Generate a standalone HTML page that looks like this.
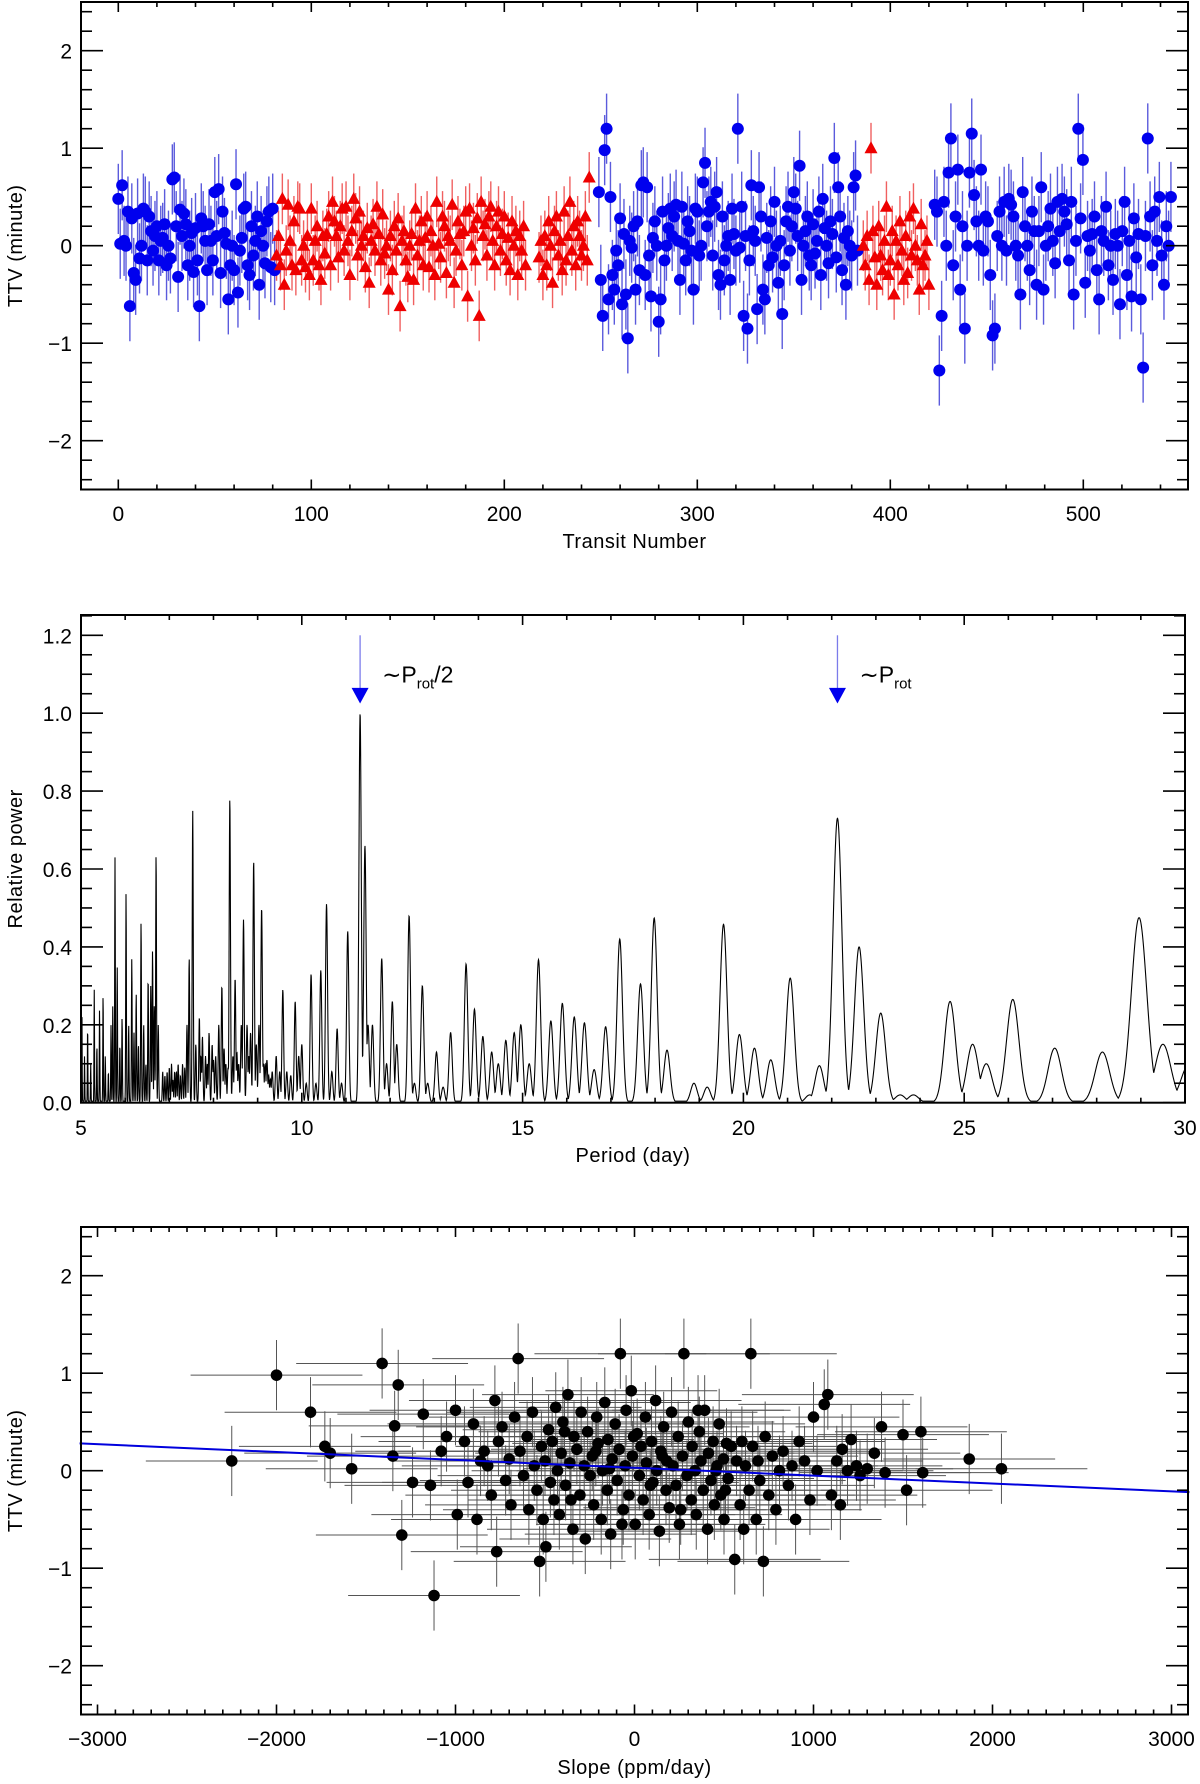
<!DOCTYPE html>
<html><head><meta charset="utf-8"><style>
html,body{margin:0;padding:0;background:#fff}
svg{display:block}
text{font-family:"Liberation Sans",sans-serif;fill:#000}
</style></head><body>
<svg id="fig" width="1200" height="1784" viewBox="0 0 1200 1784" xmlns="http://www.w3.org/2000/svg">
<defs>
<clipPath id="clip2"><rect x="81" y="615" width="1104" height="488"/></clipPath>
</defs>
<g id="p1"></g>
<g id="p2"></g>
<g id="p3"></g>
</svg>
<script>
// ---------- Panel 1 data ----------
const blue1Start = 0, blue1Step = 1;
const blue1 = [0.48,0.02,0.62,0.05,0.0,0.35,-0.62,0.28,-0.28,-0.35,0.33,-0.13,0.0,0.38,0.35,-0.15,0.3,0.15,-0.05,0.1,0.2,-0.15,0.05,0.08,0.22,-0.2,0.0,-0.13,0.68,0.7,0.2,-0.32,0.37,0.1,0.33,0.22,-0.2,0.0,0.13,-0.27,0.18,-0.15,-0.62,0.28,0.2,0.05,-0.25,0.22,0.05,-0.15,0.55,0.1,0.58,-0.28,0.35,0.13,0.02,-0.55,-0.2,0.0,-0.25,0.63,-0.48,-0.05,0.08,0.38,0.4,-0.2,-0.3,0.2,-0.1,0.05,0.3,-0.4,0.15,0.0,-0.18,0.25,0.35,-0.22,0.38,-0.25];
const red1Start = 82, red1Step = 1;
const red1 = [-0.1,0.1,-0.2,0.48,-0.4,-0.05,0.42,0.05,-0.2,0.25,-0.25,0.4,0.38,-0.15,0.0,-0.22,0.1,-0.3,0.38,-0.15,0.05,0.2,-0.2,-0.35,0.1,-0.08,0.12,0.3,-0.2,0.45,0.25,0.1,-0.12,0.2,0.38,-0.05,0.4,0.05,-0.3,0.15,0.48,0.28,-0.1,0.35,0.0,0.1,-0.22,0.18,-0.38,0.05,0.22,-0.05,0.4,0.12,-0.15,0.32,-0.08,0.0,-0.45,0.1,-0.25,0.2,-0.05,0.28,-0.62,0.05,0.15,-0.15,-0.32,0.0,0.12,-0.35,0.38,-0.1,0.05,0.25,-0.2,0.08,0.3,-0.22,0.15,0.0,-0.3,0.45,0.02,-0.12,0.3,0.2,-0.28,0.1,0.05,0.42,-0.38,-0.05,0.25,0.12,-0.2,0.15,0.35,-0.52,0.38,0.0,0.18,-0.15,0.28,-0.72,0.45,0.1,0.22,-0.1,0.3,0.4,0.05,-0.2,0.2,0.35,-0.05,0.12,0.3,-0.15,0.08,-0.25,0.25,0.0,0.15,-0.3,0.1,-0.05,0.2,-0.2,null,null,null,null,null,null,-0.12,0.05,-0.3,0.1,-0.2,0.25,0.0,-0.38,0.15,0.3,-0.1,0.05,-0.25,0.35,-0.15,0.1,0.45,-0.05,0.2,-0.2,0.25,0.1,-0.1,0.0,0.3,-0.15,0.7];
const blue2Start = 249, blue2Step = 1;
const blue2 = [0.55,-0.35,-0.72,0.98,1.2,-0.55,0.5,-0.3,-0.45,-0.05,-0.2,0.28,-0.6,0.12,-0.5,-0.95,0.05,-0.02,0.2,-0.45,0.25,-0.25,0.62,0.65,-0.3,0.6,-0.1,-0.52,0.08,0.25,0.0,-0.78,-0.55,0.35,-0.15,0.0,0.18,0.38,0.1,0.3,0.42,0.05,-0.35,0.4,0.02,-0.15,0.25,0.15,-0.05,-0.45,0.38,0.35,-0.1,0.0,0.65,0.85,0.2,0.35,0.45,-0.1,0.4,0.55,-0.3,-0.4,0.3,-0.15,0.0,0.1,-0.35,0.38,0.12,-0.05,1.2,-0.02,0.4,-0.72,0.1,-0.85,-0.15,0.62,0.15,0.05,-0.65,0.6,0.3,-0.45,-0.55,0.08,-0.2,0.25,-0.12,0.45,0.0,-0.38,0.05,-0.7,-0.2,0.25,0.4,-0.05,0.2,0.55,0.38,0.1,0.82,-0.35,0.0,0.15,0.3,-0.1,-0.2,0.22,-0.08,0.05,0.35,-0.3,0.48,0.18,0.0,-0.18,0.25,0.12,0.9,-0.12,0.6,0.3,-0.25,0.08,-0.4,0.15,0.0,-0.1,0.6,0.72,-0.05];
const red2Start = 386, red2Step = 1;
const red2 = [0.0,-0.2,0.1,-0.35,1.0,0.15,-0.12,-0.4,0.2,-0.1,-0.25,0.05,0.4,-0.3,-0.15,0.15,-0.5,0.05,-0.2,0.25,-0.05,-0.35,0.1,-0.28,0.3,-0.1,0.38,0.0,-0.15,-0.45,0.22,-0.2,-0.1,0.05,-0.4];
const blue3Start = 423, blue3Step = 1.2;
const blue3 = [0.42,0.35,-1.28,-0.72,0.45,0.0,0.75,1.1,-0.2,0.3,0.78,-0.45,0.2,-0.85,0.0,0.75,1.15,0.52,0.25,0.0,0.78,-0.05,0.3,0.25,-0.3,-0.92,-0.85,0.1,0.35,0.0,0.45,-0.05,0.48,0.42,0.3,0.0,-0.1,-0.5,0.55,0.2,0.0,-0.25,0.35,0.15,-0.4,0.15,0.6,-0.45,0.0,0.2,0.38,0.05,-0.18,0.45,0.15,0.48,0.35,0.22,-0.15,0.45,-0.5,0.05,1.2,0.28,0.88,-0.38,0.1,-0.05,0.12,0.3,-0.25,-0.55,0.15,0.05,0.4,-0.2,0.0,-0.35,0.12,0.0,-0.6,0.15,0.45,-0.3,0.05,-0.52,0.28,-0.12,0.12,-0.55,-1.25,0.1,1.1,0.3,-0.2,0.35,0.05,0.5,-0.1,-0.4,0.2,0.0,0.5];
const blueErr = 0.36, redErr = 0.26;
const p1XTicks = [0,100,200,300,400,500];
const p1YTicks = [-2,-1,0,1,2];

// ---------- Panel 2 data ----------
const peakPeriods = [5.02,5.08,5.15,5.22,5.3,5.36,5.42,5.5,5.55,5.62,5.68,5.72,5.77,5.82,5.88,5.93,6.02,6.08,6.15,6.2,6.25,6.3,6.36,6.42,6.47,6.52,6.58,6.62,6.66,6.7,6.75,6.85,6.95,7.05,7.12,7.2,7.3,7.4,7.45,7.53,7.6,7.68,7.75,7.82,7.9,7.97,8.05,8.12,8.19,8.28,8.37,8.44,8.49,8.57,8.63,8.68,8.76,8.84,8.91,8.97,9.03,9.09,9.17,9.25,9.33,9.42,9.5,9.57,9.66,9.75,9.85,9.93,10.0,10.1,10.21,10.32,10.43,10.56,10.68,10.8,10.9,11.04,11.32,11.43,11.5,11.6,11.81,11.92,12.05,12.15,12.43,12.55,12.73,12.85,13.05,13.2,13.37,13.72,13.91,14.1,14.3,14.45,14.62,14.81,14.96,15.15,15.36,15.64,15.9,16.17,16.4,16.62,16.88,17.2,17.67,17.98,18.27,18.88,19.18,19.55,19.91,20.25,20.62,21.06,21.5,21.72,22.13,22.62,23.11,23.55,23.85,24.68,25.19,25.5,26.1,27.05,28.13,28.96,29.5,30.1,6.9,7.0,7.08,7.16,7.25,7.35,7.72,7.86,8.0,8.24,8.33,8.53,8.8,9.13,9.21,9.29];
const peakPowers = [0.25,0.12,0.2,0.1,0.29,0.15,0.24,0.28,0.12,0.08,0.2,0.25,0.63,0.35,0.15,0.22,0.54,0.2,0.37,0.18,0.28,0.15,0.465,0.2,0.1,0.32,0.3,0.39,0.25,0.64,0.2,0.08,0.08,0.1,0.08,0.1,0.1,0.2,0.37,0.75,0.15,0.22,0.17,0.12,0.18,0.15,0.12,0.2,0.3,0.1,0.78,0.12,0.32,0.1,0.2,0.47,0.2,0.18,0.62,0.15,0.2,0.5,0.1,0.07,0.08,0.12,0.08,0.29,0.08,0.07,0.26,0.12,0.15,0.05,0.33,0.05,0.34,0.51,0.08,0.19,0.05,0.44,1.0,0.66,0.2,0.2,0.37,0.1,0.26,0.15,0.48,0.05,0.3,0.05,0.13,0.04,0.18,0.356,0.24,0.17,0.13,0.1,0.16,0.18,0.2,0.1,0.367,0.21,0.255,0.22,0.205,0.085,0.195,0.42,0.305,0.474,0.135,0.05,0.04,0.458,0.175,0.14,0.11,0.32,0.02,0.095,0.73,0.40,0.23,0.02,0.02,0.26,0.15,0.1,0.265,0.14,0.13,0.475,0.15,0.1,0.07,0.09,0.06,0.08,0.07,0.09,0.12,0.1,0.11,0.14,0.09,0.13,0.12,0.1,0.11,0.06];
const p2XTicks = [5,10,15,20,25,30];
const p2YTicks = [0.0,0.2,0.4,0.6,0.8,1.0,1.2];
const arrowPeriods = [11.32, 22.13];

// ---------- Panel 3 data ----------
const slopeVals = [-2250,-2000,-1810,-1730,-1700,-1580,-1410,-1340,-1350,-1320,-1300,-1240,-1180,-1140,-1120,-1080,-1050,-1000,-990,-950,-930,-900,-880,-860,-840,-820,-800,-780,-770,-760,-740,-720,-700,-690,-670,-650,-640,-620,-600,-590,-570,-560,-545,-530,-520,-510,-500,-495,-480,-470,-460,-450,-440,-430,-420,-410,-400,-385,-372,-361,-344,-338,-322,-305,-298,-281,-275,-262,-248,-236,-228,-211,-203,-186,-179,-166,-152,-148,-133,-125,-108,-97,-86,-79,-63,-52,-47,-31,-18,-12,4,15,27,36,48,61,66,82,95,103,118,124,139,147,163,176,180,194,207,215,232,244,251,268,276,293,301,317,322,338,345,362,371,384,392,408,413,427,439,446,461,473,482,497,500,514,523,-391,-355,-216,-140,-70,-5,88,155,258,355,455,508,540,560,570,590,600,610,620,640,650,660,680,690,700,720,730,750,770,790,810,830,860,880,900,920,950,980,1000,1020,1060,1080,1100,1130,1150,1160,1190,1210,1240,1260,1300,1340,1380,1400,1500,1520,1600,1610,1870,2050];
const ttvVals = [0.1,0.98,0.6,0.25,0.18,0.02,1.1,0.46,0.15,0.88,-0.66,-0.12,0.58,-0.15,-1.28,0.2,0.35,0.62,-0.45,0.3,-0.12,0.48,-0.5,0.1,0.2,0.05,-0.25,0.72,-0.83,0.3,0.45,-0.1,0.12,-0.35,0.55,1.15,0.2,-0.05,0.35,-0.4,0.6,0.05,-0.2,-0.93,0.25,-0.5,0.1,-0.78,0.42,-0.12,0.3,-0.3,0.65,0.0,-0.45,0.18,0.5,-0.15,0.78,0.08,-0.6,0.35,0.22,-0.25,0.6,0.05,-0.7,0.4,-0.05,0.15,-0.35,0.55,0.28,-0.5,0.0,0.7,-0.2,0.32,-0.65,0.12,0.48,-0.1,0.22,1.2,-0.4,0.05,0.62,-0.25,0.82,0.15,-0.55,0.38,-0.05,0.25,-0.3,0.55,0.08,-0.45,0.3,-0.12,0.72,0.0,-0.62,0.2,0.45,-0.2,0.1,-0.38,0.6,0.05,-0.15,0.35,-0.55,0.15,1.2,-0.05,0.5,-0.3,0.25,0.0,-0.45,0.4,0.1,-0.2,0.62,-0.6,0.18,-0.1,0.3,-0.35,0.05,0.48,-0.25,0.12,-0.5,0.28,-0.08,0.4,-0.3,0.2,0.02,-0.55,0.35,-0.15,0.15,-0.4,0.62,0.0,-0.2,0.25,-0.91,0.1,-0.35,0.3,-0.6,0.05,-0.2,1.2,0.25,-0.5,0.1,-0.1,-0.93,0.35,-0.25,0.15,-0.4,0.0,0.2,-0.15,0.05,-0.5,0.3,0.1,-0.3,0.55,0.0,0.68,0.78,-0.25,0.1,-0.35,0.22,0.0,0.32,0.05,-0.05,0.02,0.18,0.45,-0.02,0.37,-0.2,0.4,-0.02,0.12,0.02];
const slopeErr = 480, ttvErr3 = 0.36;
const fitSlope = [-3100, 3100];
const fitTtv = [0.28, -0.22];
const p3XTicks = [-3000,-2000,-1000,0,1000,2000,3000];
const p3YTicks = [-2,-1,0,1,2];

// ---------- helpers ----------
const NS = 'http://www.w3.org/2000/svg';
function mk(tag, attrs, parent){
  const e = document.createElementNS(NS, tag);
  for (const k in attrs) e.setAttribute(k, attrs[k]);
  parent.appendChild(e);
  return e;
}
function lin(d0,d1,r0,r1){ return v => r0 + (v-d0)*(r1-r0)/(d1-d0); }

function drawFrame(g, L, T, R, B, xs, ys, xMajor, xMinorStep, yMajor, yMinorStep, xDom, yDom, xFmt, yFmt, xTitle, yTitle, xLabelY, xTitleY, yTitleX){
  const box = mk('rect', {x:L, y:T, width:R-L, height:B-T, fill:'none', stroke:'#000', 'stroke-width':2}, g);
  
  
  const tk = mk('g', {stroke:'#000', 'stroke-width':1.6}, g);
  
  
  const nMinX = Math.round((xDom[1]-xDom[0])/xMinorStep);
  for (let i=-2;i<=nMinX+2;i++){
    const v = Math.ceil(xDom[0]/xMinorStep)*xMinorStep + i*xMinorStep;
    if (v < xDom[0] || v > xDom[1]) continue;
    const px = xs(v);
    const major = xMajor.some(m => Math.abs(m-v) < 1e-6);
    const len = major ? 10 : 5;
    mk('line', {x1:px, y1:B, x2:px, y2:B-len}, tk);
    mk('line', {x1:px, y1:T, x2:px, y2:T+len}, tk);
  }
  const nMinY = Math.round((yDom[1]-yDom[0])/yMinorStep);
  for (let i=-2;i<=nMinY+2;i++){
    const v = Math.ceil(yDom[0]/yMinorStep-1e-9)*yMinorStep + i*yMinorStep;
    if (v < yDom[0]-1e-9 || v > yDom[1]+1e-9) continue;
    const py = ys(v);
    const major = yMajor.some(m => Math.abs(m-v) < 1e-6);
    const len = major ? 22 : 11;
    mk('line', {x1:L, y1:py, x2:L+len, y2:py}, tk);
    mk('line', {x1:R, y1:py, x2:R-len, y2:py}, tk);
  }
  xMajor.forEach(v => {
    const t = mk('text', {x:xs(v), y:xLabelY, 'font-size':21, 'text-anchor':'middle'}, g);
    t.textContent = xFmt(v);
    
    
  });
  yMajor.forEach(v => {
    const t = mk('text', {x:L-9, y:ys(v)+8, 'font-size':21, 'text-anchor':'end'}, g);
    t.textContent = yFmt(v);
    
    
  });
  const xt = mk('text', {x:(L+R)/2, y:xTitleY, 'font-size':20, 'text-anchor':'middle', 'letter-spacing':'0.5'}, g);
  xt.textContent = xTitle;
  
  
  const yc = (T+B)/2;
  const yt = mk('text', {x:yTitleX, y:yc, 'font-size':20, 'text-anchor':'middle', transform:`rotate(-90 ${yTitleX} ${yc})`, 'letter-spacing':'0.5'}, g);
  yt.textContent = yTitle;
  
  
}
const minus = v => (v<0 ? '\u2212'+Math.abs(v) : String(v));

// ---------- Panel 1 ----------
(function(){
  const g = document.getElementById('p1');
  const L=81,T=2,R=1188,B=489.5;
  const xs = lin(0,500,118.3,1083.3);
  const ys = lin(0,1,245.7,148.2);
  const errs = mk('g', {}, g);
  
  
  const marks = mk('g', {}, g);
  
  
  function series(start, step, vals, color, ecolor, err, tri){
    vals.forEach((v,i) => {
      if (v === null) return;
      const n = start + i*step;
      const px = xs(n), py = ys(v);
      const e = mk('line', {x1:px, y1:ys(v-err), x2:px, y2:ys(v+err), stroke:ecolor, 'stroke-width':1.4}, errs);
      
      
      let m;
      if (tri) {
        m = mk('polygon', {points:`${px},${py-7} ${px-6.5},${py+5} ${px+6.5},${py+5}`, fill:color}, marks);
        
      } else {
        m = mk('circle', {cx:px, cy:py, r:6, fill:color}, marks);
        
      }
      
    });
  }
  series(blue1Start, blue1Step, blue1, '#0000ee', '#5b5bdc', blueErr, false);
  series(red1Start, red1Step, red1, '#ee0000', '#f06060', redErr, true);
  series(blue2Start, blue2Step, blue2, '#0000ee', '#5b5bdc', blueErr, false);
  series(red2Start, red2Step, red2, '#ee0000', '#f06060', redErr, true);
  series(blue3Start, blue3Step, blue3, '#0000ee', '#5b5bdc', blueErr, false);
  drawFrame(g, L,T,R,B, xs, ys, p1XTicks, 20, p1YTicks, 0.2, [-19.4,555], [-2.5,2.5], v=>String(v), minus, 'Transit Number', 'TTV (minute)', 521, 548, 22);
})();

// ---------- Panel 2 ----------
(function(){
  const g = document.getElementById('p2');
  const L=81,T=615,R=1185,B=1102.7;
  const xs = lin(5,30,81,1185);
  const ys = lin(0,1,1102.7,713.2);
  let d = '';
  for (let px=L; px<=R; px+=0.25){
    const p = 5 + (px-L)*25/(R-L);
    let v = 0.004;
    for (let k=0;k<peakPeriods.length;k++){
      const s = 0.1*Math.pow(peakPeriods[k]/22,2);
      const z = (p-peakPeriods[k])/s;
      if (Math.abs(z) > 6) continue;
      const c = peakPowers[k]*Math.exp(-0.5*z*z);
      if (c > v) v = c;
    }
    d += (d ? 'L' : 'M') + px.toFixed(2) + ',' + ys(v).toFixed(2);
  }
  const path = mk('path', {d:d, fill:'none', stroke:'#000', 'stroke-width':1.1, 'clip-path':'url(#clip2)'}, g);
  
  
  arrowPeriods.forEach((p,i) => {
    const px = xs(p);
    const ag = mk('g', {}, g);
    
    
    mk('line', {x1:px, y1:ys(1.2), x2:px, y2:ys(1.06), stroke:'#7b7bea', 'stroke-width':1.3}, ag);
    mk('polygon', {points:`${px-8.5},${ys(1.065)} ${px+8.5},${ys(1.065)} ${px},${ys(1.025)}`, fill:'#0000ee'}, ag);
    const t = mk('text', {x:px+22, y:ys(1.1)+8, 'font-size':23}, ag);
    t.textContent = '\u223CP';
    const ts = mk('tspan', {'font-size':15, dy:6}, t);
    ts.textContent = 'rot';
    if (i===0){
      const t2 = mk('tspan', {'font-size':23, dy:-6}, t);
      t2.textContent = '/2';
    }
    
    
  });
  drawFrame(g, L,T,R,B, xs, ys, p2XTicks, 1, p2YTicks, 0.05, [5,30], [0,1.25], v=>String(v), v=>v.toFixed(1), 'Period (day)', 'Relative power', 1135, 1162, 22);
})();

// ---------- Panel 3 ----------
(function(){
  const g = document.getElementById('p3');
  const L=81,T=1227,R=1188,B=1714.5;
  const xs = lin(0,1000,634.5,813.5);
  const ys = lin(0,1,1470.7,1373.2);
  const errs = mk('g', {}, g);
  
  
  const marks = mk('g', {}, g);
  
  
  slopeVals.forEach((s,i) => {
    const v = ttvVals[i];
    const px = xs(s), py = ys(v);
    const eh = mk('line', {x1:xs(s-slopeErr), y1:py, x2:xs(s+slopeErr), y2:py, stroke:'#555', 'stroke-width':1}, errs);
    
    
    const ev = mk('line', {x1:px, y1:ys(v-ttvErr3), x2:px, y2:ys(v+ttvErr3), stroke:'#555', 'stroke-width':1}, errs);
    
    
  });
  slopeVals.forEach((s,i) => {
    const c = mk('circle', {cx:xs(s), cy:ys(ttvVals[i]), r:5.8, fill:'#000'}, marks);
    
    
  });
  const fit = mk('line', {x1:xs(fitSlope[0]), y1:ys(fitTtv[0]), x2:xs(fitSlope[1]), y2:ys(fitTtv[1]), stroke:'#0000dd', 'stroke-width':2}, g);
  
  
  drawFrame(g, L,T,R,B, xs, ys, p3XTicks, 100, p3YTicks, 0.2, [-3092,3098], [-2.5,2.5], minus, minus, 'Slope (ppm/day)', 'TTV (minute)', 1746, 1774, 22);
})();
</script>
</body></html>
